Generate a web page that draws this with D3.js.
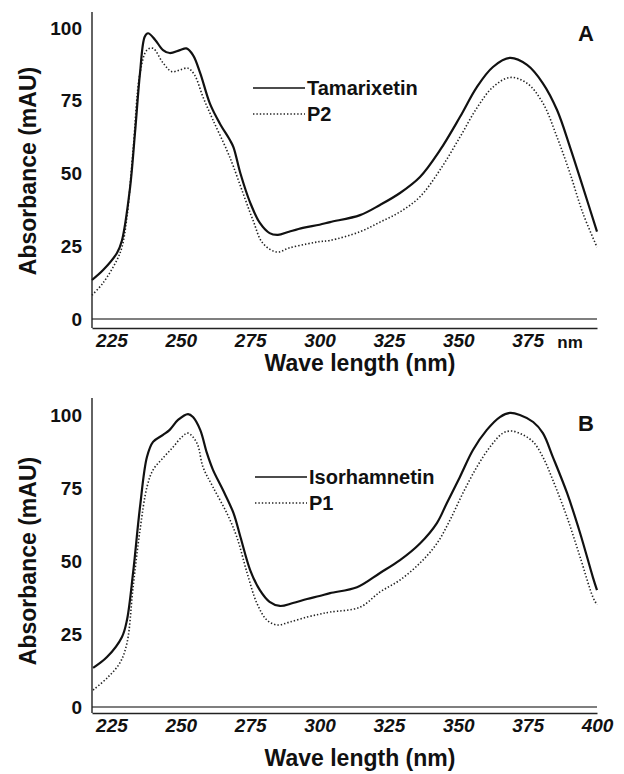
<!DOCTYPE html>
<html>
<head>
<meta charset="UTF-8">
<title>UV spectra A / B</title>
<script src="https://cdn.jsdelivr.net/npm/d3@7"></script>
<style>
body { margin: 0; background: #fff; }
text { font-family: "Liberation Sans", Arial, sans-serif; font-weight: bold; fill: #111; }
</style>
</head>
<body>
<div id="chart"></div>
<script>

// data (wavelength nm, absorbance mAU)

var tamWl  = [218, 222, 227, 228.8, 231.7, 233.5, 235.3, 237, 238.2, 240.7, 243.6, 246, 249.7, 252, 254.4, 257, 260.5, 264, 267.7, 269, 271.5, 275, 278.5, 282, 285, 289, 294, 300, 303.8, 314.6, 321.8, 329, 336.2, 343.4, 350.6, 356.7, 362.5, 368.6, 374.8, 380.5, 385.6, 390.3, 394.9, 400]
var tamAbs = [13.4, 16.8, 22.7, 27, 45, 64, 84.5, 97, 98.2, 96, 92.4, 91.4, 92.4, 93, 90.7, 84.5, 74, 67.3, 61.5, 59, 50, 40, 33, 29.5, 28.9, 30, 31.3, 32.4, 33.3, 35.7, 39.2, 43.3, 48.8, 58, 69.4, 79.7, 86.6, 89.7, 87.3, 81, 71.8, 59, 45.4, 30]

var p2Wl  = [218, 222, 227, 228.8, 230.6, 232.8, 235.3, 237.8, 240, 243.6, 246.8, 249.7, 252.6, 255, 258, 261.6, 266.6, 269, 272.4, 276, 279.6, 284.7, 289, 295.5, 300, 303.8, 314.6, 321.8, 329, 336.2, 343.4, 350.6, 356.7, 362.5, 368.6, 374.8, 380.5, 385.6, 390.3, 394.9, 400]
var p2Abs = [8.2, 12.4, 20.3, 24.7, 35, 58, 84.5, 92.4, 93, 88, 85, 85.6, 86.2, 83.8, 76.3, 68.4, 58, 52.3, 43.3, 34, 26, 23, 24.4, 25.8, 26.6, 27, 30, 33.3, 36.8, 42, 51.2, 62.5, 72.5, 79.7, 83, 81, 74.2, 62.5, 50, 36.4, 24.7]

var isoWl  = [218.4, 223.4, 228.8, 230.6, 232.8, 235.3, 237.8, 240, 243.6, 246, 249, 252.6, 254.4, 257, 259.4, 261.6, 265.2, 269, 271.5, 275, 278.5, 282, 285.7, 290.4, 295.5, 300, 303.8, 313.5, 321.8, 329, 336.2, 342.3, 345.9, 350.6, 355.3, 360.3, 365, 368.6, 372.2, 377, 380.5, 384.1, 389.2, 393.9, 398.5, 400]
var isoAbs = [13.4, 17.1, 24, 29.8, 45.9, 68.5, 85.6, 90.8, 93.2, 94.9, 98.3, 100.3, 99.3, 94.9, 87, 81.2, 74.3, 66.4, 58.2, 46.9, 40, 36, 34.6, 35.6, 37, 38, 39, 41, 45.9, 50.3, 56, 63, 69.9, 78.8, 88, 94.9, 99.3, 100.7, 100, 97.6, 93.8, 85.6, 73.3, 59.6, 44.5, 40]

var p1Wl  = [218.4, 223.4, 228, 230.6, 232.8, 235.3, 237.8, 240, 243.6, 247.2, 250.4, 252.6, 255.8, 258, 261.6, 266.6, 270.2, 273.9, 277.4, 281, 284.7, 289.3, 295.5, 300, 303.8, 314.6, 321.8, 329, 336.2, 342.3, 347, 351.7, 356.7, 361.4, 366.1, 369.4, 373.3, 377, 380.5, 384.1, 389.2, 393.9, 398.5, 400]
var p1Abs = [5.8, 9.9, 15, 21.9, 41, 60.6, 75.3, 81.2, 85.3, 89, 92.5, 93.8, 90.4, 82.2, 75.3, 66.4, 58.2, 45.9, 35.6, 29.8, 28.1, 29.1, 30.8, 31.8, 32.5, 34.2, 39.4, 43.5, 49.3, 56, 64, 73.3, 82.2, 89, 93.8, 94.5, 93.2, 90.8, 85.6, 77.7, 65, 51.4, 37.7, 35]

var yTicks  = [0, 25, 50, 75, 100]
var xTicksA = [225, 250, 275, 300, 325, 350, 375]
var xTicksB = [225, 250, 275, 300, 325, 350, 375, 400]

var xDomain = [218, 400]

// layout

var width = 624, height = 774
var left = 92, right = 597

var svg = d3.select("#chart").append("svg")
	.attr("width", width)
	.attr("height", height)

function toPoints(wl, ab) {
	return wl.map(function(w, i) { return { x: w, y: ab[i] }; })
}

function drawPanel(p) {
	var g = svg.append("g")

	var x = d3.scaleLinear().domain(xDomain).range([left, right])
	var y = d3.scaleLinear().domain([0, 100]).range([p.y0, p.y100])

	// zero baseline (grey) and x axis below it
	g.append("line")
		.attr("x1", left).attr("x2", right)
		.attr("y1", y(0)).attr("y2", y(0))
		.attr("stroke", "#555").attr("stroke-width", 1.6)

	var xa = g.append("g")
		.attr("transform", "translate(0," + p.axisY + ")")
		.call(d3.axisBottom(x).tickValues(p.xTicks).tickSize(0).tickPadding(6))
	xa.select(".domain").attr("stroke", "#222").attr("stroke-width", 1.6)
	xa.selectAll("text")
		.attr("font-size", 19)
		.attr("font-style", "italic")
		.attr("font-family", "Liberation Sans, Arial, sans-serif")
		.attr("font-weight", "bold")
		.attr("fill", "#111")

	// y axis
	g.append("line")
		.attr("x1", left).attr("x2", left)
		.attr("y1", p.yTop).attr("y2", p.axisY)
		.attr("stroke", "#222").attr("stroke-width", 1.4)

	var ya = g.append("g")
		.attr("transform", "translate(" + left + ",0)")
		.call(d3.axisLeft(y).tickValues(yTicks).tickSize(0).tickPadding(10))
	ya.select(".domain").remove()
	ya.selectAll("text")
		.attr("font-size", 19)
		.attr("font-family", "Liberation Sans, Arial, sans-serif")
		.attr("font-weight", "bold")
		.attr("fill", "#111")

	// curves
	var line = d3.line()
		.x(function(d) { return x(d.x); })
		.y(function(d) { return y(d.y); })
		.curve(d3.curveCatmullRom)

	g.append("path")
		.datum(toPoints(p.dotWl, p.dotAbs))
		.attr("d", line)
		.attr("fill", "none")
		.attr("stroke", "#222")
		.attr("stroke-width", 1.6)
		.attr("stroke-dasharray", "1.4,2")

	g.append("path")
		.datum(toPoints(p.solidWl, p.solidAbs))
		.attr("d", line)
		.attr("fill", "none")
		.attr("stroke", "#111")
		.attr("stroke-width", 2.2)

	// legend
	g.append("line")
		.attr("x1", p.legX).attr("x2", p.legX + 52)
		.attr("y1", p.legY).attr("y2", p.legY)
		.attr("stroke", "#111").attr("stroke-width", 1.6)
	g.append("line")
		.attr("x1", p.legX).attr("x2", p.legX + 52)
		.attr("y1", p.legY + 26).attr("y2", p.legY + 26)
		.attr("stroke", "#222").attr("stroke-width", 1.5)
		.attr("stroke-dasharray", "1.4,2")
	g.append("text")
		.attr("x", p.legX + 54).attr("y", p.legY)
		.attr("dy", "0.36em")
		.attr("font-size", 20)
		.text(p.solidName)
	g.append("text")
		.attr("x", p.legX + 54).attr("y", p.legY + 26)
		.attr("dy", "0.36em")
		.attr("font-size", 20)
		.text(p.dotName)

	// panel letter
	g.append("text")
		.attr("x", 586).attr("y", p.letterY)
		.attr("text-anchor", "middle")
		.attr("font-size", 22)
		.text(p.letter)

	// axis titles
	g.append("text")
		.attr("x", 360).attr("y", p.xTitleY)
		.attr("text-anchor", "middle")
		.attr("font-size", 23)
		.text("Wave length (nm)")

	g.append("text")
		.attr("transform", "translate(36," + p.yTitleMid + ") rotate(-90)")
		.attr("text-anchor", "middle")
		.attr("font-size", 23)
		.text("Absorbance (mAU)")

	if (p.unit) {
		g.append("text")
			.attr("x", 570).attr("y", p.axisY + 20)
			.attr("text-anchor", "middle")
			.attr("font-size", 17)
			.text("nm")
	}
}

drawPanel({
	letter: "A", letterY: 41,
	y0: 319, y100: 28, yTop: 12, axisY: 328,
	xTicks: xTicksA, unit: true,
	xTitleY: 371, yTitleMid: 171,
	solidWl: tamWl, solidAbs: tamAbs, solidName: "Tamarixetin",
	dotWl: p2Wl, dotAbs: p2Abs, dotName: "P2",
	legX: 253, legY: 88
})

drawPanel({
	letter: "B", letterY: 431,
	y0: 707, y100: 415, yTop: 398, axisY: 713,
	xTicks: xTicksB, unit: false,
	xTitleY: 766, yTitleMid: 561,
	solidWl: isoWl, solidAbs: isoAbs, solidName: "Isorhamnetin",
	dotWl: p1Wl, dotAbs: p1Abs, dotName: "P1",
	legX: 255, legY: 477
})

</script>
</body>
</html>
